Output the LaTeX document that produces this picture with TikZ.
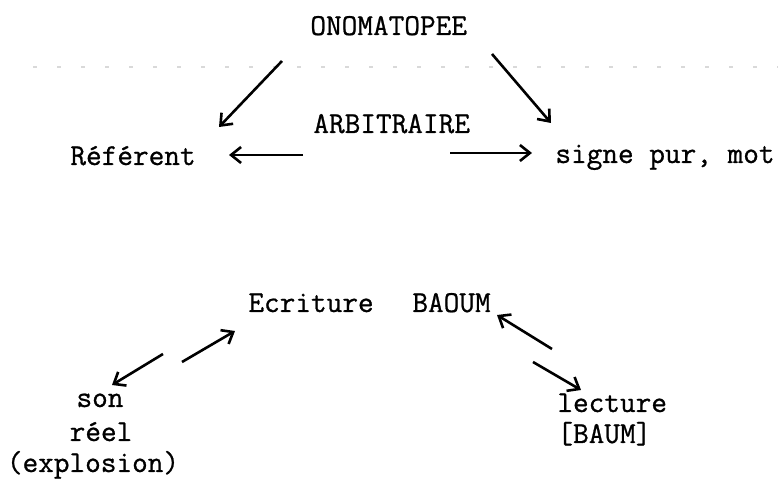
\documentclass[tikz,border=0pt]{standalone}
\usepackage{fontspec}
\setmonofont{Latin Modern Mono}[FakeBold=0.8]
\usepackage{tikz}
\usetikzlibrary{arrows.meta}

\begin{document}
\begin{tikzpicture}[
  x=0.5pt, y=-0.5pt,
  font=\ttfamily\fontsize{15.2pt}{16.5pt}\selectfont,
  word/.style={inner sep=0pt, anchor=base west},
  line/.style={inner sep=0pt, anchor=base},
  arr/.style={-{Straight Barb[length=5pt,width=8pt]}, line width=1.3pt},
]
\useasboundingbox (0,0) rectangle (778,480);
% faint scan line under the title
\draw[gray!30, line width=0.6pt, dash pattern=on 2pt off 10pt] (33,67) -- (778,67);
% upper triangle
\node[word] (onoma) at (310,35) {ONOMATOPEE};
\node[word] (arbi) at (313,133) {ARBITRAIRE};
\node[word] (ref) at (70,165) {Référent};
\node[word] (signe) at (555,163) {signe pur, mot};
% lower part
\node[word] (ecr) at (248,312) {Ecriture};
\node[word] (baoum) at (412,312) {BAOUM};
\node[line] (son) at (100,407) {son};
\node[line] (reel) at (101,441) {réel};
\node[line] (expl) at (93,472) {(explosion)};
\node[word] (lect) at (557,412) {lecture};
\node[word] (baum) at (557,443) {[BAUM]};
% arrow ends
\coordinate (t1) at (282,61);  \coordinate (h1) at (219,127);
\coordinate (t2) at (492,54);  \coordinate (h2) at (551,123);
\coordinate (t3) at (303,155); \coordinate (h3) at (229,155);
\coordinate (t4) at (450,153); \coordinate (h4) at (532,153);
\coordinate (t5) at (163,354); \coordinate (h5) at (112,385);
\coordinate (t6) at (182,362); \coordinate (h6) at (235,331);
\coordinate (t7) at (552,349); \coordinate (h7) at (497,315);
\coordinate (t8) at (533,362); \coordinate (h8) at (581,390);
\foreach \i in {1,...,8} \draw[arr] (t\i) -- (h\i);
\end{tikzpicture}
\end{document}
